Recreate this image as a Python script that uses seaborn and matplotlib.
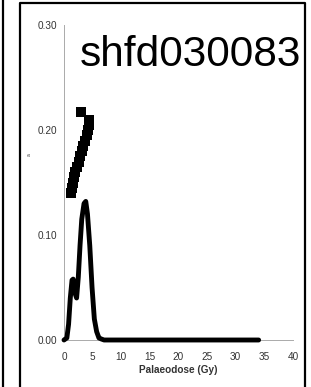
import matplotlib
matplotlib.use("Agg")
import matplotlib.pyplot as plt
import seaborn as sns
import pandas as pd
from matplotlib.lines import Line2D

# Probability density curve
dose_x = [0.0, 0.5, 0.8, 1.1, 1.4, 1.6, 1.9, 2.2, 2.5, 2.8, 3.1, 3.5, 3.8, 4.1,
          4.5, 4.9, 5.3, 5.7, 6.1, 6.5, 7.0, 8.0, 34.0]
density_y = [0.0, 0.002, 0.015, 0.040, 0.057, 0.058, 0.045, 0.040, 0.060, 0.090,
             0.115, 0.130, 0.132, 0.120, 0.090, 0.050, 0.020, 0.008, 0.002, 0.001,
             0.0, 0.0, 0.0]

# Individual palaeodose points (squares)
point_x = [1.3, 1.4, 1.6, 1.8, 2.0, 2.3, 2.6, 2.8, 3.1, 3.4, 3.7, 4.0, 4.2, 4.3, 4.4, 2.9]
point_y = [0.140, 0.145, 0.150, 0.155, 0.160, 0.165, 0.170, 0.175, 0.180, 0.185,
           0.190, 0.195, 0.200, 0.205, 0.210, 0.217]

x_ticks = [0, 5, 10, 15, 20, 25, 30, 35, 40]
y_ticks = [0.00, 0.10, 0.20, 0.30]
y_tick_labels = ["0.00", "0.10", "0.20", "0.30"]
title_text = "shfd030083"
x_label = "Palaeodose (Gy)"

sns.set_style("white")
plt.rcParams['font.family'] = ['Liberation Sans', 'DejaVu Sans']

W, H = 311, 387
fig = plt.figure(figsize=(W / 100, H / 100), dpi=100)
ax = fig.add_axes([64 / W, 1 - 340 / H, 229 / W, 315 / H])

curve = pd.DataFrame({"dose": dose_x, "density": density_y})
pts = pd.DataFrame({"dose": point_x, "p": point_y})

sns.lineplot(data=curve, x="dose", y="density", ax=ax, color="black",
             linewidth=3.5, clip_on=False, zorder=3)
sns.scatterplot(data=pts, x="dose", y="p", ax=ax, color="black", marker="s",
                s=42, edgecolor="black", linewidth=0, clip_on=False, zorder=4)

ax.set_xlim(0, 40)
ax.set_ylim(0, 0.30)
ax.set_xticks(x_ticks)
ax.set_yticks(y_ticks)
ax.set_yticklabels(y_tick_labels)
ax.tick_params(axis="both", labelsize=7.2, colors="#999999", labelcolor="#333333",
               length=2.5, width=0.6, pad=2)
ax.tick_params(axis="x", pad=6)
for s in ["top", "right"]:
    ax.spines[s].set_visible(False)
for s in ["left", "bottom"]:
    ax.spines[s].set_color("#aaaaaa")
    ax.spines[s].set_linewidth(0.7)
ax.set_xlabel(x_label, fontsize=7.2, fontweight="bold", color="#333333", labelpad=2)
ax.set_ylabel("a", fontsize=3.5, color="#333333", rotation=90)
ax.yaxis.set_label_coords(-0.14, 0.587)
ax.patch.set_alpha(0)

fig.text(190 / W, 1 - 66 / H, title_text, fontsize=30.5, color="black",
         ha="center", va="baseline")

# screenshot frame lines
fig.add_artist(Line2D([3 / W, 3 / W], [0, 1], transform=fig.transFigure,
                      color="black", linewidth=1.6))
fig.add_artist(Line2D([20 / W, 20 / W, 305 / W, 305 / W],
                      [0, 1 - 3 / H, 1 - 3 / H, 0], transform=fig.transFigure,
                      color="black", linewidth=1.6))

fig.savefig("out.png", dpi=100)
